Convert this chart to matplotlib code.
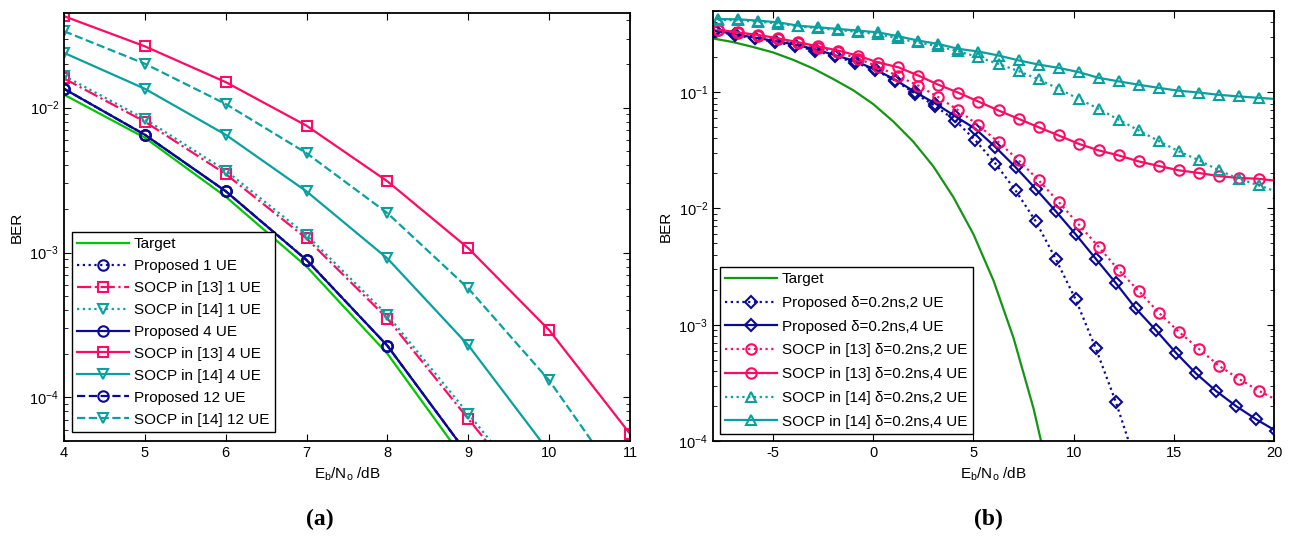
import matplotlib.pyplot as plt
import numpy as np
from matplotlib.ticker import NullFormatter

plt.rcParams['font.family'] = ['Liberation Sans', 'DejaVu Sans']
plt.rcParams['mathtext.default'] = 'regular'
plt.rcParams['axes.unicode_minus'] = False
plt.rcParams['font.size'] = 10

# ---- (a) BER vs Eb/No, number of UEs ----
ebno_a = [4, 5, 6, 7, 8, 9, 10, 11]
target_a = [0.0123, 0.0062, 0.00243, 8.0e-4, 2.0e-4, 3.4e-5]
prop_1ue = [0.0135, 0.0065, 0.00265, 8.9e-4, 2.27e-4, 4.0e-5]
socp13_1ue = [0.0159, 0.0080, 0.00348, 1.25e-3, 3.5e-4, 7.1e-5, 1.45e-5]
socp14_1ue = [0.0166, 0.00835, 0.00368, 1.32e-3, 3.7e-4, 7.7e-5, 1.6e-5]
prop_4ue = [0.0135, 0.0065, 0.00265, 8.87e-4, 2.27e-4, 4.0e-5]
socp13_4ue = [0.0428, 0.0265, 0.0150, 0.0075, 0.0031, 1.07e-3, 2.91e-4, 5.6e-5]
socp14_4ue = [0.0239, 0.0135, 0.0065, 0.00264, 9.1e-4, 2.29e-4, 4.2e-5]
prop_12ue = [0.0135, 0.0065, 0.00265, 8.87e-4, 2.27e-4, 4.0e-5]
socp14_12ue = [0.0337, 0.0201, 0.0106, 0.00485, 0.00187, 5.65e-4, 1.31e-4, 2.1e-5]

# ---- (b) BER vs Eb/No, timing error 0.2 ns ----
ebno_target_b = [-8, -7, -6, -5, -4, -3, -2, -1, 0, 1, 2, 3, 4, 5, 6, 7, 8, 9]
target_b = [0.29, 0.27, 0.245, 0.22, 0.19, 0.16, 0.13, 0.104, 0.079, 0.056, 0.0375,
            0.023, 0.0125, 0.006, 0.0024, 7.7e-4, 1.9e-4, 3.4e-5]
ebno_prop_b = np.arange(-8, 21) + 0.1
ebno_socp_b = np.arange(-8, 21) + 0.25
prop_2ue_b = [0.335, 0.31, 0.29, 0.27, 0.25, 0.228, 0.203, 0.18, 0.155, 0.126, 0.097,
              0.076, 0.057, 0.0385, 0.0243, 0.0143, 0.0078, 0.0037, 0.00165, 6.3e-4,
              2.18e-4, 6.5e-5]
prop_4ue_b = [0.34, 0.315, 0.295, 0.276, 0.257, 0.234, 0.208, 0.185, 0.157, 0.128, 0.10,
              0.080, 0.062, 0.0484, 0.0337, 0.0227, 0.0148, 0.0095, 0.006, 0.0037,
              0.00229, 0.00138, 9.0e-4, 5.75e-4, 3.82e-4, 2.7e-4, 2.0e-4, 1.54e-4, 1.22e-4]
socp13_2ue_b = [0.342, 0.325, 0.307, 0.287, 0.264, 0.242, 0.22, 0.195, 0.165, 0.137, 0.114,
                0.0906, 0.0697, 0.0518, 0.0372, 0.026, 0.0175, 0.0114, 0.0073, 0.00467,
                0.00295, 0.00195, 0.00127, 8.7e-4, 6.2e-4, 4.44e-4, 3.42e-4, 2.7e-4, 2.2e-4]
socp13_4ue_b = [0.345, 0.327, 0.311, 0.291, 0.269, 0.248, 0.228, 0.206, 0.180, 0.164, 0.139,
                0.116, 0.099, 0.083, 0.0697, 0.059, 0.050, 0.0425, 0.036, 0.0316, 0.0286,
                0.0254, 0.0232, 0.0213, 0.0202, 0.019, 0.0183, 0.018, 0.0172]
socp14_2ue_b = [0.42, 0.415, 0.405, 0.39, 0.37, 0.355, 0.343, 0.33, 0.315, 0.29, 0.268,
                0.248, 0.225, 0.2, 0.175, 0.152, 0.129, 0.107, 0.0877, 0.072, 0.058,
                0.0469, 0.038, 0.031, 0.026, 0.0213, 0.018, 0.0158, 0.0137]
socp14_4ue_b = [0.426, 0.424, 0.413, 0.399, 0.374, 0.362, 0.35, 0.339, 0.327, 0.303, 0.278,
                0.26, 0.236, 0.224, 0.207, 0.188, 0.173, 0.162, 0.149, 0.133, 0.124,
                0.116, 0.109, 0.103, 0.0994, 0.095, 0.092, 0.0895, 0.087]

green_a = '#00c800'
green_b = '#149614'
navy = '#0a0a96'
pink = '#ff0a64'
teal = '#0aa0a0'
dot = (0, (1, 1.6))

fig = plt.figure(figsize=(12.9, 5.38), dpi=100)
ax1 = fig.add_axes([0.0496, 0.1803, 0.4388, 0.7955])
ax2 = fig.add_axes([0.5527, 0.1803, 0.4349, 0.7993])

mk = dict(markersize=7.5, markerfacecolor='none', markeredgewidth=1.5, linewidth=1.6)


def xs(x, y):
    return list(x)[:len(y)]


# (a)
ax1.semilogy(xs(ebno_a, target_a), target_a, color=green_a, linewidth=1.6, label='Target')
ax1.semilogy(xs(ebno_a, prop_1ue), prop_1ue, color=navy, linestyle=dot, marker='o', label='Proposed 1 UE', **mk)
ax1.semilogy(xs(ebno_a, socp13_1ue), socp13_1ue, color=pink, linestyle='-.', marker='s', label='SOCP in [13] 1 UE', **mk)
ax1.semilogy(xs(ebno_a, socp14_1ue), socp14_1ue, color=teal, linestyle=dot, marker='v', label='SOCP in [14] 1 UE', **mk)
ax1.semilogy(xs(ebno_a, prop_4ue), prop_4ue, color=navy, linestyle='-', marker='o', label='Proposed 4 UE', **mk)
ax1.semilogy(xs(ebno_a, socp13_4ue), socp13_4ue, color=pink, linestyle='-', marker='s', label='SOCP in [13] 4 UE', **mk)
ax1.semilogy(xs(ebno_a, socp14_4ue), socp14_4ue, color=teal, linestyle='-', marker='v', label='SOCP in [14] 4 UE', **mk)
ax1.semilogy(xs(ebno_a, prop_12ue), prop_12ue, color=navy, linestyle='--', marker='o', label='Proposed 12 UE', **mk)
ax1.semilogy(xs(ebno_a, socp14_12ue), socp14_12ue, color=teal, linestyle='--', marker='v', label='SOCP in [14] 12 UE', **mk)
ax1.set_xlim(4, 11)
ax1.set_ylim(5e-5, 4.5e-2)
ax1.set_xticks(ebno_a)

# (b)
ax2.semilogy(ebno_target_b, target_b, color=green_b, linewidth=1.6, label='Target')
ax2.semilogy(xs(ebno_prop_b, prop_2ue_b), prop_2ue_b, color=navy, linestyle=dot, marker='D',
             label='Proposed δ=0.2ns,2 UE', **dict(mk, markersize=6.5))
ax2.semilogy(xs(ebno_prop_b, prop_4ue_b), prop_4ue_b, color=navy, linestyle='-', marker='D',
             label='Proposed δ=0.2ns,4 UE', **dict(mk, markersize=6.5))
ax2.semilogy(xs(ebno_socp_b, socp13_2ue_b), socp13_2ue_b, color=pink, linestyle=dot, marker='o',
             label='SOCP in [13] δ=0.2ns,2 UE', **mk)
ax2.semilogy(xs(ebno_socp_b, socp13_4ue_b), socp13_4ue_b, color=pink, linestyle='-', marker='o',
             label='SOCP in [13] δ=0.2ns,4 UE', **mk)
ax2.semilogy(xs(ebno_socp_b, socp14_2ue_b), socp14_2ue_b, color=teal, linestyle=dot, marker='^',
             label='SOCP in [14] δ=0.2ns,2 UE', **mk)
ax2.semilogy(xs(ebno_socp_b, socp14_4ue_b), socp14_4ue_b, color=teal, linestyle='-', marker='^',
             label='SOCP in [14] δ=0.2ns,4 UE', **mk)
ax2.set_xlim(-8, 20)
ax2.set_ylim(1e-4, 0.5)
ax2.set_xticks([-5, 0, 5, 10, 15, 20])

for ax in (ax1, ax2):
    ax.tick_params(which='both', direction='in', top=True, right=True, labelsize=10.5)
    ax.tick_params(which='major', length=5)
    ax.tick_params(which='minor', length=3)
    ax.yaxis.set_minor_formatter(NullFormatter())
    for s in ax.spines.values():
        s.set_linewidth(1.3)
    ax.set_ylabel('BER', fontsize=11)
    ax.set_xlabel('E$_b$/N$_o$ /dB', fontsize=11)

leg_kw = dict(loc='lower left', borderaxespad=0, fancybox=False, framealpha=1,
              edgecolor='black', handlelength=3.4, handletextpad=0.3, fontsize=11,
              borderpad=0.35)
l1 = ax1.legend(bbox_to_anchor=(0.014, 0.021), labelspacing=0.52, **leg_kw)
l2 = ax2.legend(bbox_to_anchor=(0.0125, 0.016), labelspacing=0.64, **leg_kw)
for l in (l1, l2):
    l.get_frame().set_linewidth(1.0)

fig.text(320 / 1290, 0.035, '(a)', family='Liberation Serif', weight='bold', fontsize=17,
         ha='center', va='center')
fig.text(988 / 1290, 0.035, '(b)', family='Liberation Serif', weight='bold', fontsize=17,
         ha='center', va='center')

fig.savefig('out.png', dpi=100)
